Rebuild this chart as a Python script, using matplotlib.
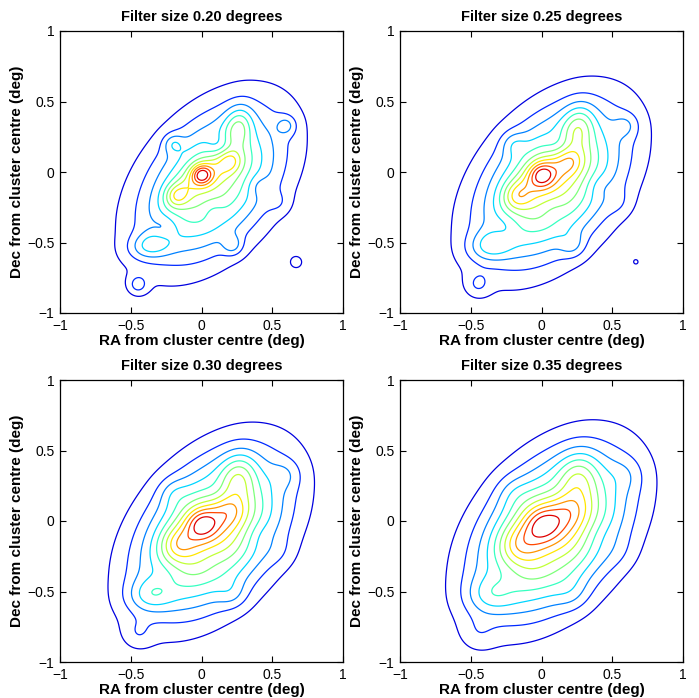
import numpy as np
import matplotlib
matplotlib.use("Agg")
import matplotlib.pyplot as plt

plt.rcParams['font.family'] = ['Liberation Sans', 'DejaVu Sans']

# Filter sizes (deg) shown in the four panels
filter_sizes = [0.20, 0.25, 0.30, 0.35]
titles = ["Filter size 0.20 degrees", "Filter size 0.25 degrees",
          "Filter size 0.30 degrees", "Filter size 0.35 degrees"]

# Galaxy-density components: centre RA, Dec (deg),
# weight (negative = under-dense gap), intrinsic widths along/across the
# position angle, position angle (deg)
comp_x    = [0.07, 0.00, 0.10, -0.15, 0.20, -0.18, 0.26, -0.36,
             0.12, -0.26, 0.40, 0.08, 0.55,
             -0.20, 0.60, 0.22, -0.45, 0.67]
comp_y    = [-0.08, -0.02, 0.02, -0.15, 0.08, -0.17, 0.32, -0.52,
             0.19, -0.40, -0.10, -0.27, -0.22,
             0.20, 0.33, -0.52, -0.80, -0.64]
comp_w    = [1.00, 0.0150, 0.022, 0.013, 0.006, 0.006, 0.025, 0.020,
             -0.006, -0.005, -0.004, -0.003, 0.003,
             0.0052, 0.0052, 0.0055, 0.0055, 0.0040]
comp_smaj = [0.43, 0.015, 0.14, 0.08, 0.02, 0.02, 0.09, 0.09,
             0.04, 0.04, 0.03, 0.03, 0.03,
             0.0, 0.0, 0.0, 0.0, 0.0]
comp_smin = [0.27, 0.015, 0.05, 0.04, 0.02, 0.02, 0.045, 0.04,
             0.04, 0.04, 0.03, 0.03, 0.03,
             0.0, 0.0, 0.0, 0.0, 0.0]
comp_pa   = [50, 0, 25, 40, 0, 0, 80, 10,
             0, 0, 0, 0, 0,
             0, 0, 0, 0, 0]

n_levels = 11
ticks = [-1, -0.5, 0, 0.5, 1]
tick_labels = ["\u22121", "\u22120.5", "0", "0.5", "1"]

grid = np.linspace(-1, 1, 401)
X, Y = np.meshgrid(grid, grid)


def density(size):
    s = size / 4.0
    Z = np.zeros_like(X)
    for x0, y0, w, a, b, pa in zip(comp_x, comp_y, comp_w, comp_smaj, comp_smin, comp_pa):
        t = np.deg2rad(pa)
        c, sn = np.cos(t), np.sin(t)
        va = a ** 2 + s ** 2
        vb = b ** 2 + s ** 2
        dx, dy = X - x0, Y - y0
        u = dx * c + dy * sn
        v = -dx * sn + dy * c
        Z += w / (2 * np.pi * np.sqrt(va * vb)) * np.exp(-0.5 * (u ** 2 / va + v ** 2 / vb))
    return Z


fig = plt.figure(figsize=(6.99, 6.98), dpi=100)
W, H = 699, 698
boxes = [(60, 31), (400, 31), (60, 380), (400, 380)]
for i, (size, title) in enumerate(zip(filter_sizes, titles)):
    l, t = boxes[i]
    ax = fig.add_axes([l / W, 1 - (t + 282) / H, 283 / W, 282 / H])
    Z = density(size)
    zmax = Z.max()
    levels = zmax * np.arange(1, n_levels + 1) / (n_levels + 1)
    ax.contour(X, Y, Z, levels=levels, cmap='jet', vmin=0, vmax=zmax, linewidths=0.9)
    ax.set_xlim(-1, 1)
    ax.set_ylim(-1, 1)
    ax.set_xticks(ticks)
    ax.set_yticks(ticks)
    ax.set_xticklabels(tick_labels)
    ax.set_yticklabels(tick_labels)
    ax.tick_params(direction='in', top=True, right=True, labelsize=10, length=4, width=0.8, pad=4)
    for sp in ax.spines.values():
        sp.set_linewidth(0.9)
    ax.set_title(title, fontsize=10.5, fontweight='bold', pad=7)
    ax.set_xlabel("RA from cluster centre (deg)", fontsize=11, fontweight='bold', labelpad=1)
    ax.set_ylabel("Dec from cluster centre (deg)", fontsize=11, fontweight='bold', labelpad=2)

fig.savefig("out.png", dpi=100)
